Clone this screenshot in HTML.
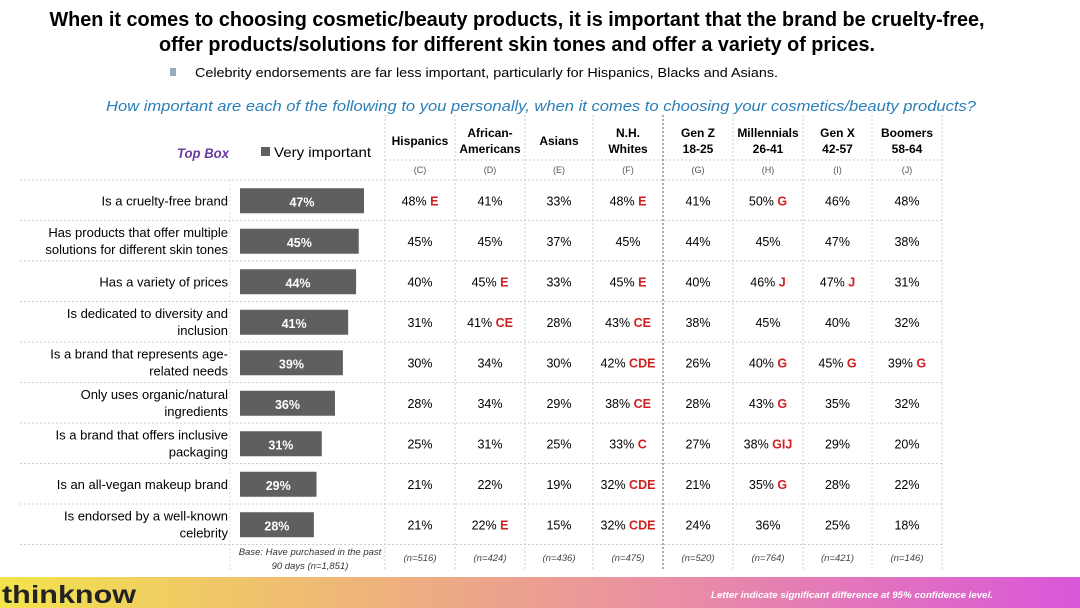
<!DOCTYPE html>
<html><head><meta charset="utf-8"><style>
html,body{margin:0;padding:0;background:#fff;}
svg{display:block;font-family:"Liberation Sans",sans-serif;}
</style></head><body>
<svg id="chart" width="1080" height="608" viewBox="0 0 1080 608">
<defs><linearGradient id="fg" x1="0" x2="1" y1="0" y2="0">
<stop offset="0" stop-color="#f2e34c"/><stop offset="0.35" stop-color="#eeb27c"/><stop offset="0.65" stop-color="#e98aa8"/><stop offset="1" stop-color="#d957d9"/></linearGradient></defs>
<text x="517" y="26" text-anchor="middle" font-size="20" font-weight="bold" textLength="935" lengthAdjust="spacingAndGlyphs">When it comes to choosing cosmetic/beauty products, it is important that the brand be cruelty-free,</text>
<text x="517" y="51" text-anchor="middle" font-size="20" font-weight="bold" textLength="716" lengthAdjust="spacingAndGlyphs">offer products/solutions for different skin tones and offer a variety of prices.</text>
<rect x="170" y="68" width="6" height="8" fill="#9ab"/>
<text x="195" y="77" font-size="13" textLength="583" lengthAdjust="spacingAndGlyphs">Celebrity endorsements are far less important, particularly for Hispanics, Blacks and Asians.</text>
<text x="106" y="111" font-size="14.5" font-style="italic" fill="#2a7fb8" textLength="870" lengthAdjust="spacingAndGlyphs">How important are each of the following to you personally, when it comes to choosing your cosmetics/beauty products?</text>
<text x="229" y="158" text-anchor="end" font-size="13.5" font-weight="bold" font-style="italic" fill="#6a3ba0" textLength="52" lengthAdjust="spacingAndGlyphs">Top Box</text>
<rect x="261" y="147" width="9" height="9" fill="#5f5f5f"/>
<text x="274" y="157" font-size="14" textLength="97" lengthAdjust="spacingAndGlyphs">Very important</text>
<g id="grid"></g><g id="rows"></g>
<rect x="0" y="577" width="1080" height="31" fill="url(#fg)"/>
<text x="2" y="603" font-size="25" font-weight="bold" fill="#222" textLength="134" lengthAdjust="spacingAndGlyphs">thinknow</text>
<text x="993" y="598" text-anchor="end" font-size="9.5" font-weight="bold" font-style="italic" fill="#fff" textLength="282" lengthAdjust="spacingAndGlyphs">Letter indicate significant difference at 95% confidence level.</text>
</svg>
<script>
const items=["Is a cruelty-free brand","Has products that offer multiple|solutions for different skin tones","Has a variety of prices","Is dedicated to diversity and|inclusion","Is a brand that represents age-|related needs","Only uses organic/natural|ingredients","Is a brand that offers inclusive|packaging","Is an all-vegan makeup brand","Is endorsed by a well-known|celebrity"];
const totals=[47,45,44,41,39,36,31,29,28];
const groups=["Hispanics","African-|Americans","Asians","N.H.|Whites","Gen Z|18-25","Millennials|26-41","Gen X|42-57","Boomers|58-64"];
const codes=["(C)","(D)","(E)","(F)","(G)","(H)","(I)","(J)"];
const bases=["(n=516)","(n=424)","(n=436)","(n=475)","(n=520)","(n=764)","(n=421)","(n=146)"];
const values=[
[48,41,33,48,41,50,46,48],[45,45,37,45,44,45,47,38],[40,45,33,45,40,46,47,31],
[31,41,28,43,38,45,40,32],[30,34,30,42,26,40,45,39],[28,34,29,38,28,43,35,32],
[25,31,25,33,27,38,29,20],[21,22,19,32,21,35,28,22],[21,22,15,32,24,36,25,18]];
const sig=[
["E","","","E","","G","",""],["","","","","","","",""],["","E","","E","","J","J",""],
["","CE","","CE","","","",""],["","","","CDE","","G","G","G"],["","","","CE","","G","",""],
["","","","C","","GIJ","",""],["","","","CDE","","G","",""],["","E","","CDE","","","",""]];
const NS="http://www.w3.org/2000/svg";
const svg=document.getElementById('chart'),G=document.getElementById('rows'),GR=document.getElementById('grid');
function mk(p,tag,at,txt){const e=document.createElementNS(NS,tag);for(const k in at)e.setAttribute(k,at[k]);if(txt!=null)e.textContent=txt;p.appendChild(e);return e;}
const colX=[385,455,525,593,663,733,803,872,942];
const rowTop=180,rowH=40.5;
const xs=v=>v*124/47;
const rowY=i=>rowTop+i*rowH;
// grid
for(let i=0;i<=items.length;i++){const l=mk(GR,'line',{x1:20,x2:942,y1:rowY(i),y2:rowY(i),stroke:'#ccc','stroke-dasharray':'2,2'});

}
{const l=mk(GR,'line',{x1:385,x2:942,y1:160,y2:160,stroke:'#ccc','stroke-dasharray':'2,2'});}
colX.forEach((x,i)=>{const l=mk(GR,'line',{x1:x,x2:x,y1:115,y2:570,stroke:i==4?'#556':'#ccc','stroke-dasharray':'2,2'});

});
{const l=mk(GR,'line',{x1:230,x2:230,y1:180,y2:570,stroke:'#ddd','stroke-dasharray':'2,2'});}
// headers
groups.forEach((g,j)=>{const cx=(colX[j]+colX[j+1])/2;const parts=g.split('|');
parts.forEach((p,k)=>{const t=mk(G,'text',{x:cx,y:(parts.length==1?145:137)+k*16,'text-anchor':'middle','font-size':12,'font-weight':'bold'},p);

});
const c=mk(G,'text',{x:cx,y:173,'text-anchor':'middle','font-size':9,fill:'#555'},codes[j]);


const b=mk(G,'text',{x:cx,y:561,'text-anchor':'middle','font-size':9.5,'font-style':'italic',fill:'#444'},bases[j]);

});
[["Base: Have purchased in the past",555],["90 days (n=1,851)",569]].forEach(([s,y])=>{const t=mk(G,'text',{x:310,y:y,'text-anchor':'middle','font-size':9.5,'font-style':'italic',fill:'#333'},s);

});
// rows
items.forEach((it,i)=>{const cy=rowY(i)+rowH/2;const parts=it.split('|');
parts.forEach((p,k)=>{const t=mk(G,'text',{x:228,y:(parts.length==1?cy+5:cy-4+k*17),'text-anchor':'end','font-size':13},p);

});
const r=mk(G,'rect',{x:240,y:cy-12,width:xs(totals[i]),height:25,fill:'#5f5f5f'});


const bt=mk(G,'text',{x:240+xs(totals[i])/2,y:cy+6,'text-anchor':'middle','font-size':12.5,'font-weight':'bold',fill:'#fff'},totals[i]+'%');


values[i].forEach((v,j)=>{const cx=(colX[j]+colX[j+1])/2;const s=sig[i][j];
const t=mk(G,'text',{x:cx,y:cy+5,'text-anchor':'middle','font-size':12.5},null);
const a=document.createElementNS(NS,'tspan');a.textContent=v+'%';t.appendChild(a);
if(s){const b=document.createElementNS(NS,'tspan');b.setAttribute('fill','#d0201f');b.setAttribute('font-weight','bold');b.textContent=' '+s;t.appendChild(b);}

});});
</script>
</body></html>
